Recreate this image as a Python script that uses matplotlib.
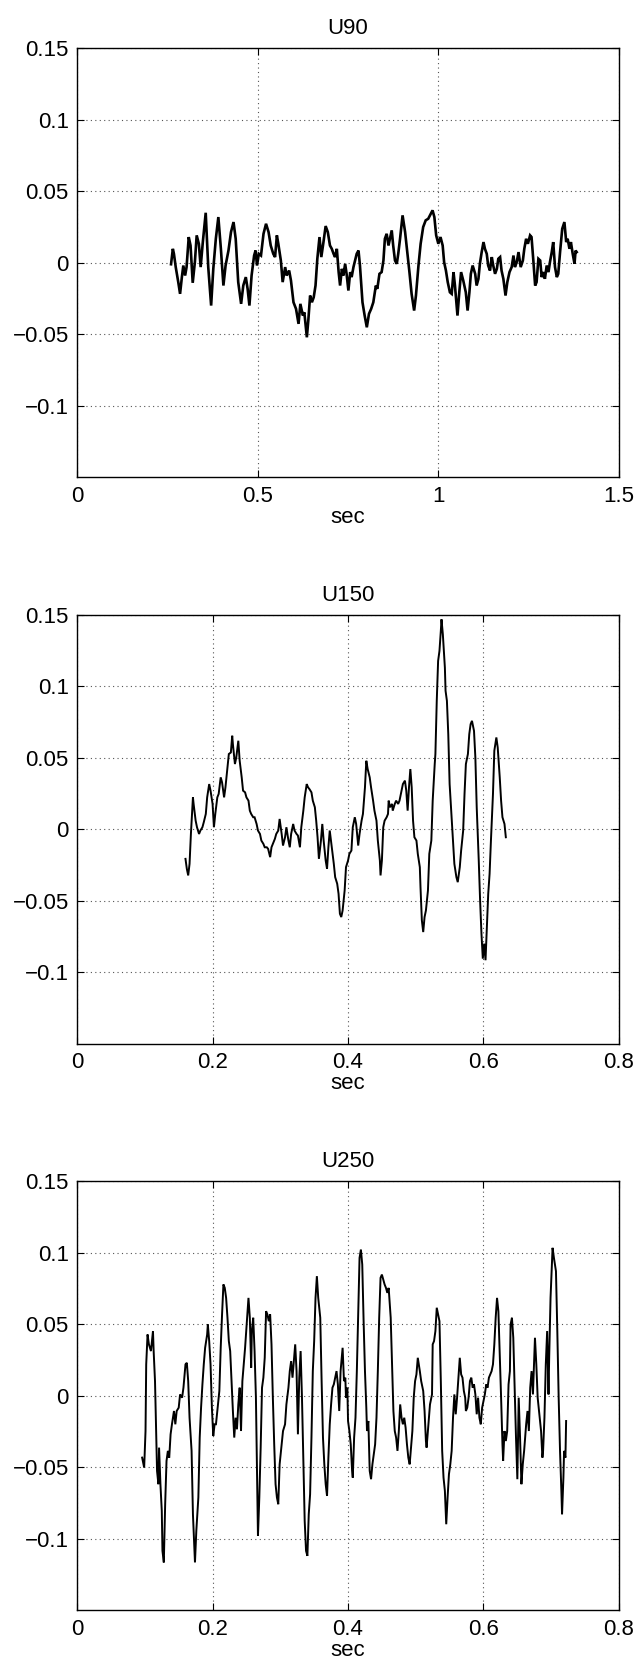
import matplotlib
matplotlib.use('Agg')
import matplotlib.pyplot as plt
from matplotlib.ticker import FuncFormatter

plt.rcParams['font.family'] = ['Liberation Sans', 'DejaVu Sans']
plt.rcParams['font.size'] = 16
plt.rcParams['axes.unicode_minus'] = True

# ---- U90 ----
t90 = [0.260, 0.265, 0.268, 0.273, 0.280, 0.285, 0.290, 0.294, 0.299, 0.303,
       0.309, 0.314, 0.320, 0.326, 0.331, 0.337, 0.342, 0.348, 0.356, 0.363,
       0.371, 0.377, 0.384, 0.391, 0.398, 0.405, 0.411, 0.419, 0.426, 0.433,
       0.439, 0.446, 0.454, 0.460, 0.467, 0.472, 0.477, 0.483, 0.490, 0.494,
       0.498, 0.503, 0.509, 0.516, 0.523, 0.530, 0.536, 0.543, 0.548, 0.553,
       0.557, 0.564, 0.569, 0.576, 0.580, 0.587, 0.592, 0.599, 0.606, 0.613,
       0.618, 0.625, 0.629, 0.636, 0.640, 0.645, 0.650, 0.655, 0.660, 0.665,
       0.671, 0.676, 0.682, 0.688, 0.694, 0.700, 0.705, 0.710, 0.714, 0.719,
       0.724, 0.728, 0.733, 0.737, 0.742, 0.746, 0.751, 0.756, 0.760, 0.765,
       0.774, 0.779, 0.783, 0.790, 0.796, 0.802, 0.808, 0.814, 0.820, 0.827,
       0.831, 0.837, 0.843, 0.848, 0.852, 0.857, 0.862, 0.866, 0.871, 0.875,
       0.880, 0.885, 0.889, 0.894, 0.901, 0.908, 0.914, 0.920, 0.926, 0.933,
       0.938, 0.945, 0.951, 0.958, 0.965, 0.972, 0.979, 0.984, 0.989, 0.994,
       1.000, 1.006, 1.012, 1.016, 1.021, 1.026, 1.032, 1.037, 1.042, 1.046,
       1.053, 1.058, 1.063, 1.069, 1.076, 1.081, 1.086, 1.090, 1.095, 1.102,
       1.106, 1.111, 1.115, 1.120, 1.125, 1.129, 1.134, 1.138, 1.143, 1.148,
       1.152, 1.157, 1.162, 1.166, 1.171, 1.175, 1.180, 1.186, 1.191, 1.197,
       1.203, 1.208, 1.212, 1.217, 1.222, 1.228, 1.234, 1.238, 1.243, 1.248,
       1.254, 1.258, 1.263, 1.268, 1.272, 1.277, 1.282, 1.286, 1.291, 1.295,
       1.300, 1.305, 1.309, 1.314, 1.318, 1.323, 1.328, 1.332, 1.337, 1.343,
       1.349, 1.354, 1.358, 1.363, 1.367, 1.372, 1.377, 1.380, 1.383]
u90 = [-0.0010, 0.0098, 0.0063, -0.0030, -0.0135, -0.0217, -0.0100, -0.0019, -0.0089, -0.0030,
       0.0180, 0.0121, -0.0140, 0.0005, 0.0192, 0.0133, -0.0030, 0.0145, 0.0350, -0.0030,
       -0.0299, -0.0042, 0.0168, 0.0320, 0.0098, -0.0159, -0.0019, 0.0086, 0.0215, 0.0285,
       0.0168, -0.0135, -0.0287, -0.0159, -0.0100, -0.0182, -0.0299, -0.0089, 0.0051, 0.0086,
       -0.0019, 0.0063, 0.0051, 0.0203, 0.0273, 0.0215, 0.0121, 0.0063, 0.0040, 0.0192,
       0.0133, 0.0016, -0.0135, -0.0030, -0.0089, -0.0054, -0.0124, -0.0276, -0.0322, -0.0427,
       -0.0287, -0.0369, -0.0346, -0.0521, -0.0404, -0.0229, -0.0276, -0.0241, -0.0159, 0.0028,
       0.0180, 0.0040, 0.0145, 0.0257, 0.0215, 0.0121, 0.0098, 0.0063, 0.0040, 0.0098,
       -0.0065, -0.0159, -0.0042, -0.0089, -0.0007, -0.0077, -0.0194, -0.0065, -0.0100, -0.0030,
       0.0063, 0.0086, -0.0019, -0.0276, -0.0369, -0.0451, -0.0357, -0.0322, -0.0276, -0.0159,
       -0.0182, -0.0077, -0.0065, 0.0016, 0.0168, 0.0203, 0.0121, 0.0168, 0.0227, 0.0121,
       0.0016, -0.0007, 0.0063, 0.0168, 0.0332, 0.0215, 0.0075, -0.0065, -0.0217, -0.0334,
       -0.0229, -0.0019, 0.0133, 0.0250, 0.0297, 0.0308, 0.0343, 0.0367, 0.0320, 0.0192,
       0.0133, 0.0180, 0.0121, 0.0005, -0.0054, -0.0135, -0.0206, -0.0217, -0.0065, -0.0159,
       -0.0369, -0.0206, -0.0065, -0.0124, -0.0206, -0.0334, -0.0206, -0.0077, -0.0019, -0.0077,
       -0.0159, -0.0112, -0.0007, 0.0075, 0.0145, 0.0098, 0.0063, -0.0019, -0.0054, 0.0040,
       -0.0019, -0.0077, -0.0042, 0.0028, 0.0040, -0.0054, -0.0112, -0.0229, -0.0135, -0.0065,
       -0.0030, 0.0051, -0.0030, 0.0005, 0.0075, -0.0030, 0.0016, 0.0098, 0.0168, 0.0133,
       0.0192, 0.0180, 0.0016, -0.0159, -0.0135, 0.0028, 0.0016, -0.0100, -0.0065, -0.0112,
       -0.0019, -0.0065, 0.0005, 0.0075, 0.0145, -0.0030, -0.0100, -0.0077, 0.0075, 0.0238,
       0.0285, 0.0145, 0.0168, 0.0098, 0.0145, 0.0063, -0.0007, 0.0086, 0.0075]

# ---- U150 ----
t150 = [0.160, 0.162, 0.164, 0.166, 0.168, 0.171, 0.172, 0.175, 0.177, 0.180,
        0.182, 0.185, 0.187, 0.190, 0.192, 0.195, 0.197, 0.200, 0.202, 0.204,
        0.207, 0.209, 0.212, 0.214, 0.217, 0.219, 0.222, 0.224, 0.227, 0.229,
        0.230, 0.233, 0.235, 0.238, 0.240, 0.243, 0.245, 0.248, 0.250, 0.253,
        0.255, 0.257, 0.260, 0.262, 0.265, 0.267, 0.270, 0.272, 0.275, 0.277,
        0.280, 0.282, 0.285, 0.287, 0.289, 0.292, 0.294, 0.297, 0.299, 0.302,
        0.304, 0.307, 0.309, 0.312, 0.314, 0.316, 0.319, 0.321, 0.324, 0.326,
        0.329, 0.331, 0.334, 0.336, 0.339, 0.341, 0.343, 0.346, 0.348, 0.351,
        0.353, 0.355, 0.357, 0.360, 0.362, 0.364, 0.367, 0.369, 0.371, 0.373,
        0.376, 0.379, 0.381, 0.384, 0.386, 0.388, 0.390, 0.392, 0.395, 0.397,
        0.400, 0.402, 0.405, 0.407, 0.410, 0.412, 0.415, 0.417, 0.420, 0.422,
        0.425, 0.427, 0.429, 0.432, 0.434, 0.437, 0.439, 0.442, 0.444, 0.447,
        0.448, 0.450, 0.452, 0.454, 0.457, 0.459, 0.460, 0.462, 0.465, 0.466,
        0.469, 0.471, 0.474, 0.476, 0.479, 0.481, 0.484, 0.486, 0.488, 0.490,
        0.492, 0.494, 0.496, 0.498, 0.501, 0.503, 0.506, 0.507, 0.509, 0.511,
        0.513, 0.515, 0.518, 0.520, 0.523, 0.525, 0.528, 0.529, 0.531, 0.533,
        0.535, 0.537, 0.538, 0.540, 0.543, 0.544, 0.546, 0.548, 0.550, 0.552,
        0.555, 0.557, 0.560, 0.562, 0.565, 0.567, 0.570, 0.572, 0.574, 0.577,
        0.579, 0.581, 0.583, 0.586, 0.588, 0.590, 0.593, 0.595, 0.597, 0.599,
        0.601, 0.603, 0.605, 0.607, 0.609, 0.611, 0.614, 0.616, 0.619, 0.621,
        0.624, 0.626, 0.628, 0.631, 0.633]
u150 = [-0.0207, -0.0277, -0.0323, -0.0242, -0.0033, 0.0223, 0.0177, 0.0060, 0.0014, -0.0033,
        -0.0009, 0.0014, 0.0049, 0.0107, 0.0223, 0.0316, 0.0270, 0.0177, 0.0014, 0.0107,
        0.0223, 0.0247, 0.0363, 0.0328, 0.0223, 0.0293, 0.0433, 0.0526, 0.0537, 0.0654,
        0.0595, 0.0456, 0.0502, 0.0619, 0.0479, 0.0363, 0.0270, 0.0258, 0.0223, 0.0200,
        0.0130, 0.0107, 0.0084, 0.0084, 0.0037, -0.0009, -0.0033, -0.0079, -0.0102, -0.0126,
        -0.0126, -0.0137, -0.0195, -0.0126, -0.0102, -0.0067, -0.0033, -0.0009, 0.0072, -0.0033,
        -0.0114, -0.0056, 0.0014, -0.0079, -0.0126, -0.0033, 0.0037, -0.0009, -0.0033, -0.0044,
        -0.0126, 0.0014, 0.0130, 0.0223, 0.0316, 0.0293, 0.0281, 0.0258, 0.0200, 0.0154,
        0.0060, -0.0056, -0.0207, -0.0079, 0.0037, -0.0079, -0.0219, -0.0277, -0.0126, -0.0009,
        -0.0126, -0.0242, -0.0335, -0.0381, -0.0451, -0.0591, -0.0614, -0.0568, -0.0428, -0.0265,
        -0.0219, -0.0172, -0.0149, 0.0014, 0.0084, 0.0037, -0.0114, -0.0033, 0.0060, 0.0107,
        0.0293, 0.0479, 0.0421, 0.0363, 0.0293, 0.0200, 0.0130, 0.0060, -0.0079, -0.0219,
        -0.0323, -0.0219, 0.0014, 0.0060, 0.0084, 0.0107, 0.0200, 0.0154, 0.0177, 0.0130,
        0.0177, 0.0200, 0.0177, 0.0200, 0.0270, 0.0316, 0.0340, 0.0270, 0.0130, 0.0293,
        0.0421, 0.0293, 0.0060, -0.0056, -0.0079, -0.0172, -0.0265, -0.0405, -0.0637, -0.0719,
        -0.0614, -0.0568, -0.0428, -0.0172, -0.0079, 0.0200, 0.0456, 0.0526, 0.0898, 0.1177,
        0.1247, 0.1386, 0.1468, 0.1363, 0.1130, 0.0968, 0.0898, 0.0665, 0.0316, 0.0154,
        -0.0079, -0.0242, -0.0335, -0.0370, -0.0265, -0.0149, -0.0009, 0.0247, 0.0456, 0.0526,
        0.0665, 0.0735, 0.0758, 0.0688, 0.0502, 0.0154, -0.0219, -0.0498, -0.0730, -0.0905,
        -0.0800, -0.0916, -0.0684, -0.0451, -0.0312, -0.0079, 0.0247, 0.0549, 0.0642, 0.0572,
        0.0363, 0.0200, 0.0084, 0.0037, -0.0056]

# ---- U250 ----
t250 = [0.096, 0.097, 0.099, 0.101, 0.102, 0.104, 0.106, 0.109, 0.112, 0.113,
        0.115, 0.118, 0.120, 0.121, 0.123, 0.125, 0.126, 0.128, 0.130, 0.132,
        0.134, 0.136, 0.138, 0.140, 0.143, 0.145, 0.147, 0.150, 0.152, 0.155,
        0.157, 0.160, 0.162, 0.164, 0.166, 0.169, 0.171, 0.172, 0.174, 0.176,
        0.179, 0.181, 0.183, 0.185, 0.187, 0.189, 0.192, 0.193, 0.195, 0.197,
        0.199, 0.201, 0.203, 0.205, 0.208, 0.210, 0.212, 0.214, 0.216, 0.218,
        0.220, 0.222, 0.224, 0.226, 0.228, 0.230, 0.232, 0.234, 0.236, 0.238,
        0.240, 0.242, 0.244, 0.246, 0.248, 0.251, 0.253, 0.255, 0.257, 0.258,
        0.260, 0.262, 0.264, 0.266, 0.267, 0.269, 0.271, 0.273, 0.275, 0.277,
        0.279, 0.281, 0.283, 0.285, 0.287, 0.289, 0.291, 0.293, 0.295, 0.297,
        0.299, 0.302, 0.304, 0.307, 0.309, 0.312, 0.314, 0.316, 0.318, 0.320,
        0.322, 0.324, 0.326, 0.328, 0.330, 0.332, 0.334, 0.336, 0.338, 0.340,
        0.342, 0.344, 0.346, 0.348, 0.350, 0.352, 0.354, 0.356, 0.359, 0.361,
        0.363, 0.365, 0.367, 0.369, 0.371, 0.373, 0.375, 0.377, 0.379, 0.381,
        0.383, 0.385, 0.387, 0.389, 0.392, 0.394, 0.396, 0.397, 0.399, 0.400,
        0.402, 0.404, 0.406, 0.407, 0.409, 0.411, 0.413, 0.415, 0.417, 0.419,
        0.421, 0.423, 0.425, 0.427, 0.428, 0.430, 0.432, 0.434, 0.436, 0.438,
        0.440, 0.442, 0.444, 0.446, 0.448, 0.450, 0.452, 0.454, 0.456, 0.458,
        0.460, 0.461, 0.463, 0.465, 0.467, 0.469, 0.471, 0.473, 0.475, 0.477,
        0.479, 0.481, 0.483, 0.485, 0.487, 0.489, 0.491, 0.493, 0.495, 0.497,
        0.499, 0.501, 0.503, 0.506, 0.508, 0.511, 0.513, 0.515, 0.516, 0.519,
        0.521, 0.524, 0.525, 0.527, 0.529, 0.531, 0.533, 0.535, 0.537, 0.539,
        0.541, 0.543, 0.545, 0.547, 0.549, 0.551, 0.553, 0.555, 0.557, 0.559,
        0.561, 0.563, 0.565, 0.567, 0.569, 0.571, 0.573, 0.574, 0.576, 0.578,
        0.580, 0.582, 0.584, 0.586, 0.588, 0.590, 0.592, 0.594, 0.596, 0.598,
        0.600, 0.602, 0.604, 0.606, 0.608, 0.610, 0.612, 0.614, 0.616, 0.618,
        0.620, 0.622, 0.624, 0.626, 0.628, 0.629, 0.631, 0.633, 0.635, 0.637,
        0.639, 0.640, 0.642, 0.644, 0.646, 0.648, 0.650, 0.652, 0.654, 0.656,
        0.658, 0.660, 0.663, 0.665, 0.667, 0.669, 0.671, 0.673, 0.675, 0.676,
        0.678, 0.680, 0.683, 0.685, 0.687, 0.688, 0.690, 0.692, 0.694, 0.696,
        0.697, 0.699, 0.701, 0.702, 0.704, 0.707, 0.709, 0.711, 0.713, 0.715,
        0.716, 0.718, 0.719, 0.721, 0.722]
u250 = [-0.0433, -0.0456, -0.0503, -0.0247, 0.0219, 0.0428, 0.0359, 0.0312, 0.0452, 0.0312,
        0.0102, -0.0526, -0.0619, -0.0363, -0.0619, -0.0805, -0.1085, -0.1166, -0.0759, -0.0456,
        -0.0386, -0.0433, -0.0270, -0.0200, -0.0107, -0.0200, -0.0107, -0.0084, 0.0009, -0.0014,
        0.0056, 0.0219, 0.0230, 0.0102, -0.0154, -0.0386, -0.0829, -0.0945, -0.1166, -0.0945,
        -0.0712, -0.0293, -0.0084, 0.0079, 0.0219, 0.0335, 0.0428, 0.0498, 0.0382, 0.0219,
        -0.0084, -0.0282, -0.0200, -0.0200, -0.0061, 0.0033, 0.0335, 0.0568, 0.0778, 0.0754,
        0.0684, 0.0545, 0.0382, 0.0312, 0.0102, -0.0107, -0.0293, -0.0154, -0.0235, -0.0061,
        0.0056, -0.0247, 0.0102, 0.0219, 0.0335, 0.0545, 0.0684, 0.0545, 0.0196, 0.0452,
        0.0545, 0.0312, -0.0014, -0.0666, -0.0980, -0.0712, -0.0363, 0.0056, 0.0126, 0.0265,
        0.0591, 0.0568, 0.0521, 0.0568, 0.0359, -0.0014, -0.0340, -0.0619, -0.0712, -0.0759,
        -0.0480, -0.0340, -0.0247, -0.0200, -0.0061, 0.0056, 0.0172, 0.0242, 0.0126, 0.0242,
        0.0359, 0.0172, -0.0270, 0.0126, 0.0312, -0.0014, -0.0433, -0.0875, -0.1085, -0.1120,
        -0.0829, -0.0689, -0.0293, 0.0172, 0.0382, 0.0684, 0.0836, 0.0684, 0.0545, 0.0102,
        -0.0293, -0.0480, -0.0619, -0.0701, -0.0433, -0.0200, -0.0061, 0.0056, 0.0079, 0.0126,
        0.0172, 0.0079, -0.0107, 0.0172, 0.0335, 0.0102, 0.0126, -0.0014, 0.0056, -0.0177,
        -0.0247, -0.0340, -0.0526, -0.0573, -0.0293, -0.0154, 0.0172, 0.0568, 0.0964, 0.1022,
        0.0917, 0.0521, 0.0172, -0.0084, -0.0247, -0.0177, -0.0526, -0.0584, -0.0480, -0.0410,
        -0.0340, -0.0154, 0.0172, 0.0545, 0.0824, 0.0847, 0.0812, 0.0778, 0.0754, 0.0719,
        0.0754, 0.0684, 0.0545, 0.0219, -0.0107, -0.0247, -0.0293, -0.0386, -0.0247, -0.0061,
        -0.0154, -0.0200, -0.0154, -0.0223, -0.0340, -0.0433, -0.0480, -0.0363, -0.0247, -0.0014,
        0.0102, 0.0149, 0.0265, 0.0172, 0.0102, 0.0033, -0.0107, -0.0317, -0.0363, -0.0177,
        -0.0061, 0.0009, 0.0359, 0.0382, 0.0452, 0.0615, 0.0568, 0.0521, 0.0102, -0.0386,
        -0.0573, -0.0666, -0.0899, -0.0712, -0.0549, -0.0480, -0.0386, -0.0154, 0.0009, -0.0130,
        -0.0014, 0.0126, 0.0265, 0.0149, 0.0126, 0.0033, -0.0014, -0.0107, -0.0084, -0.0014,
        0.0102, 0.0126, 0.0056, 0.0079, 0.0009, -0.0130, -0.0014, -0.0154, -0.0200, -0.0084,
        -0.0037, 0.0009, 0.0079, 0.0056, 0.0126, 0.0149, 0.0172, 0.0219, 0.0359, 0.0545,
        0.0684, 0.0591, 0.0289, -0.0014, -0.0340, -0.0456, -0.0247, -0.0317, -0.0247, 0.0079,
        0.0172, 0.0498, 0.0545, 0.0405, 0.0056, -0.0293, -0.0584, -0.0014, -0.0293, -0.0619,
        -0.0480, -0.0386, -0.0200, -0.0107, -0.0247, 0.0056, 0.0172, 0.0009, 0.0265, 0.0405,
        0.0219, -0.0014, -0.0154, -0.0247, -0.0433, -0.0386, -0.0154, 0.0219, 0.0452, 0.0009,
        0.0265, 0.0684, 0.0917, 0.1034, 0.0964, 0.0871, 0.0452, -0.0014, -0.0386, -0.0666,
        -0.0829, -0.0573, -0.0386, -0.0433, -0.0177]

panels = [('U90', t90, u90, 1.5, [0, 0.5, 1, 1.5], 1.9),
          ('U150', t150, u150, 0.8, [0, 0.2, 0.4, 0.6, 0.8], 1.4),
          ('U250', t250, u250, 0.8, [0, 0.2, 0.4, 0.6, 0.8], 1.4)]
yticks = [-0.1, -0.05, 0, 0.05, 0.1, 0.15]
tops = [0.971, 0.631, 0.291]

fig = plt.figure(figsize=(6.4, 16.66), dpi=100)
fmt = FuncFormatter(lambda v, p: ('%g' % v).replace('-', '\u2212'))
for (name, t, u, xmax, xt, lw), top in zip(panels, tops):
    ax = fig.add_axes([0.1205, top - 0.2575, 0.8466, 0.2575])
    ax.plot(t, u, color='k', lw=lw, solid_joinstyle='miter')
    ax.set_xlim(0, xmax)
    ax.set_ylim(-0.15, 0.15)
    ax.set_xticks(xt)
    ax.set_yticks(yticks)
    ax.xaxis.set_major_formatter(fmt)
    ax.yaxis.set_major_formatter(fmt)
    ax.grid(True, linestyle=(0, (1, 3)), color='#555555', lw=0.8)
    ax.tick_params(direction='in', top=True, right=True, length=5, pad=6)
    for s in ax.spines.values():
        s.set_linewidth(1.0)
    ax.set_title(name, fontsize=16, pad=10)
    ax.set_xlabel('sec', fontsize=16, labelpad=0)

fig.savefig('out.png', dpi=100)
